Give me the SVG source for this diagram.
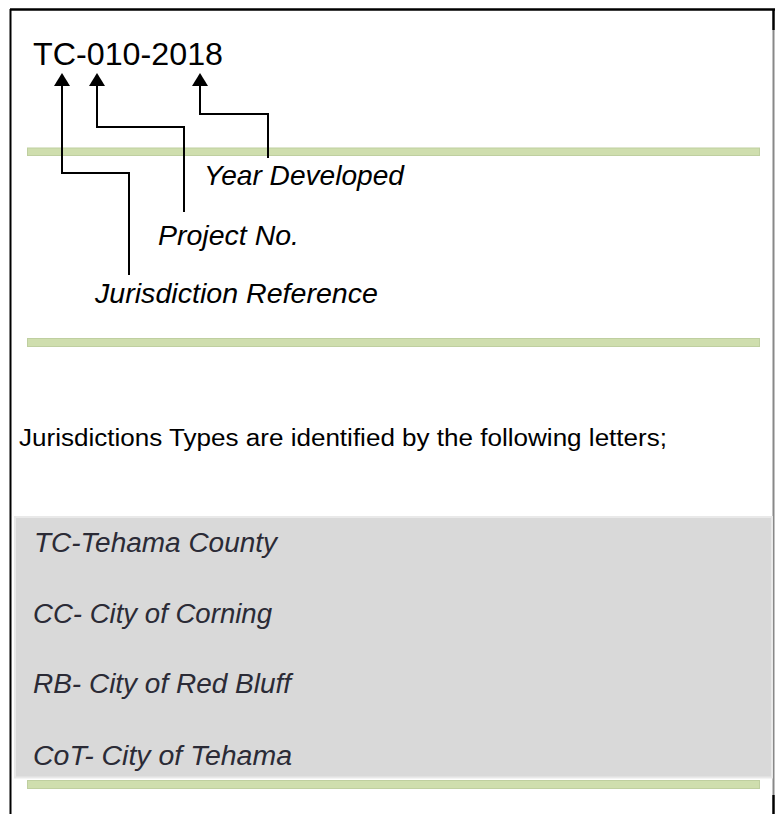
<svg xmlns="http://www.w3.org/2000/svg" width="775" height="814" viewBox="0 0 775 814">
<style>
.t{font-family:"Liberation Sans",Arial,sans-serif;fill:#000}
.i{font-style:italic}
.g{fill:#cfdeae;stroke:#bfcfa0;stroke-width:1}
.c{fill:none;stroke:#000;stroke-width:2}
.it{font-family:"Liberation Sans",Arial,sans-serif;font-style:italic;fill:#2b2b36;font-size:27px}
</style>
<defs>
<marker id="ah" viewBox="0 0 13 16" refX="6" refY="8" markerWidth="13" markerHeight="16" markerUnits="userSpaceOnUse" orient="auto">
<path d="M0,0 L13,8 L0,16 Z" fill="#000"/>
</marker>
</defs>
<rect x="0" y="0" width="775" height="814" fill="#fff"/>
<g id="frame">
<line x1="10" y1="9.5" x2="775" y2="9.5" stroke="#000" stroke-width="2.5"/>
<line x1="10.5" y1="9" x2="10.5" y2="814" stroke="#000" stroke-width="2"/>
<line x1="773.5" y1="9" x2="773.5" y2="30" stroke="#000" stroke-width="2.5"/>
<line x1="773.5" y1="30" x2="773.5" y2="795" stroke="#888" stroke-width="2"/>
<line x1="773.5" y1="795" x2="773.5" y2="814" stroke="#000" stroke-width="2.5"/>
</g>
<g id="bars">
<rect class="g" x="27.5" y="148" width="732" height="7.5"/>
<rect class="g" x="27.5" y="338.5" width="732" height="8"/>
</g>
<g id="code">
<text class="t" x="33" y="64.5" font-size="31" textLength="190" lengthAdjust="spacingAndGlyphs">TC-010-2018</text>
</g>
<g id="year-label">
<text class="t i" x="204" y="185" font-size="28" textLength="200" lengthAdjust="spacingAndGlyphs">Year Developed</text>
</g>
<g id="project-label">
<text class="t i" x="158" y="245" font-size="28" textLength="141" lengthAdjust="spacingAndGlyphs">Project No.</text>
</g>
<g id="jurisdiction-label">
<text class="t i" x="95" y="303" font-size="28" textLength="283" lengthAdjust="spacingAndGlyphs">Jurisdiction Reference</text>
</g>
<g id="connectors">
<polyline class="c" points="129,275 129,173 62,173 62,80" marker-end="url(#ah)"/>
<polyline class="c" points="184,212 184,127 97,127 97,80" marker-end="url(#ah)"/>
<polyline class="c" points="268,158 268,114 200,114 200,80" marker-end="url(#ah)"/>
</g>
<g id="intro">
<text class="t" x="19" y="446" font-size="23.5" textLength="648" lengthAdjust="spacingAndGlyphs">Jurisdictions Types are identified by the following letters;</text>
</g>
<g id="list">
<rect class="g" x="27.5" y="780.5" width="732" height="8"/>
<rect x="15" y="517" width="757" height="260.5" fill="#d9d9d9" stroke="#e9e9e9" stroke-width="2"/>
<text class="it" x="34" y="552" textLength="243" lengthAdjust="spacingAndGlyphs">TC-Tehama County</text>
<text class="it" x="33" y="623" textLength="239" lengthAdjust="spacingAndGlyphs">CC- City of Corning</text>
<text class="it" x="33" y="693" textLength="258" lengthAdjust="spacingAndGlyphs">RB- City of Red Bluff</text>
<text class="it" x="33" y="765" textLength="259" lengthAdjust="spacingAndGlyphs">CoT- City of Tehama</text>
</g>
</svg>
